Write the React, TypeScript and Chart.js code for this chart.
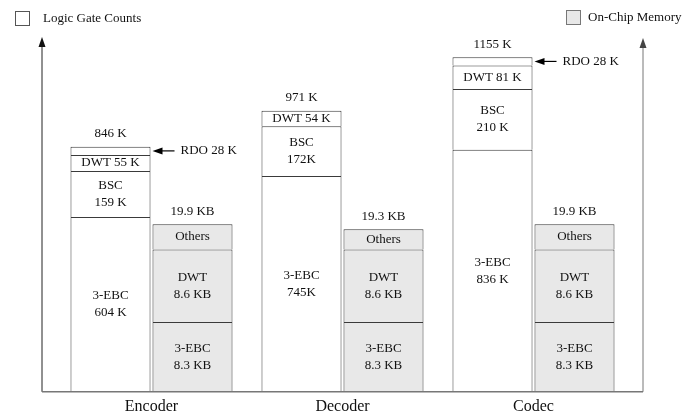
import React, { useEffect, useRef } from "react";
import { Chart, registerables } from "chart.js";

Chart.register(...registerables);

const categories = ["Encoder", "Decoder", "Codec"];

// Logic gate counts (K gates)
const logicEBC = [604, 745, 836];
const logicBSC = [159, 172, 210];
const logicDWT = [55, 54, 81];
const logicRDO: (number | null)[] = [28, null, 28];

// On-chip memory (KB)
const memEBC = [8.3, 8.3, 8.3];
const memDWT = [8.6, 8.6, 8.6];
const memOthers = [3.0, 2.4, 3.0];

const logicTotals = ["846 K", "971 K", "1155 K"];
const memTotals = ["19.9 KB", "19.3 KB", "19.9 KB"];

const labelEBC = [["3-EBC", "604 K"], ["3-EBC", "745K"], ["3-EBC", "836 K"]];
const labelBSC = [["BSC", "159 K"], ["BSC", "172K"], ["BSC", "210 K"]];
const labelDWT = [["DWT 55 K"], ["DWT 54 K"], ["DWT 81 K"]];
const labelRDO = ["RDO 28 K", "", "RDO 28 K"];
const labelMemEBC = [["3-EBC", "8.3 KB"], ["3-EBC", "8.3 KB"], ["3-EBC", "8.3 KB"]];
const labelMemDWT = [["DWT", "8.6 KB"], ["DWT", "8.6 KB"], ["DWT", "8.6 KB"]];
const labelMemOthers = [["Others"], ["Others"], ["Others"]];

const legendLogic = "Logic Gate Counts";
const legendMem = "On-Chip Memory";

const FONT = '"Liberation Serif", "Times New Roman", serif';
const MEM_FILL = "#e8e8e8";
const EDGE = "#3a3a3a";

function arrowUp(ctx: CanvasRenderingContext2D, x: number, yBottom: number, yTop: number) {
  ctx.beginPath();
  ctx.moveTo(x, yBottom);
  ctx.lineTo(x, yTop + 8);
  ctx.stroke();
  ctx.beginPath();
  ctx.moveTo(x, yTop);
  ctx.lineTo(x - 3.5, yTop + 10);
  ctx.lineTo(x + 3.5, yTop + 10);
  ctx.closePath();
  ctx.fill();
}

const overlayPlugin = {
  id: "overlay",
  afterDatasetsDraw(chart: any) {
    const ctx: CanvasRenderingContext2D = chart.ctx;
    const area = chart.chartArea;
    const yL = chart.scales.y;
    const yR = chart.scales.y1;
    ctx.save();
    ctx.fillStyle = "#111";
    ctx.textAlign = "center";
    ctx.textBaseline = "middle";
    ctx.font = `13px ${FONT}`;

    const segLabels: any[] = [labelEBC, labelBSC, labelDWT, null, labelMemEBC, labelMemDWT, labelMemOthers];
    segLabels.forEach((labels, di) => {
      if (!labels) return;
      const meta = chart.getDatasetMeta(di);
      meta.data.forEach((el: any, i: number) => {
        const lines: string[] = labels[i];
        const cy = (el.y + el.base) / 2;
        const lh = 17;
        lines.forEach((t, k) => {
          ctx.fillText(t, el.x, cy + (k - (lines.length - 1) / 2) * lh);
        });
      });
    });

    // totals
    const metaL = chart.getDatasetMeta(0);
    const metaM = chart.getDatasetMeta(4);
    categories.forEach((_, i) => {
      const lt = logicEBC[i] + logicBSC[i] + logicDWT[i] + (logicRDO[i] ?? 0);
      const mt = memEBC[i] + memDWT[i] + memOthers[i];
      ctx.fillText(logicTotals[i], metaL.data[i].x, yL.getPixelForValue(lt) - 13);
      ctx.fillText(memTotals[i], metaM.data[i].x, yR.getPixelForValue(mt) - 13);
    });

    // RDO arrows
    const metaR = chart.getDatasetMeta(3);
    ctx.strokeStyle = "#000";
    ctx.fillStyle = "#000";
    ctx.lineWidth = 1.2;
    metaR.data.forEach((el: any, i: number) => {
      if (logicRDO[i] == null) return;
      const cy = (el.y + el.base) / 2;
      const x0 = el.x + el.width / 2 + 2;
      ctx.beginPath();
      ctx.moveTo(x0 + 6, cy);
      ctx.lineTo(x0 + 22, cy);
      ctx.stroke();
      ctx.beginPath();
      ctx.moveTo(x0, cy);
      ctx.lineTo(x0 + 10, cy - 3.5);
      ctx.lineTo(x0 + 10, cy + 3.5);
      ctx.closePath();
      ctx.fill();
      ctx.fillStyle = "#111";
      ctx.textAlign = "left";
      ctx.fillText(labelRDO[i], x0 + 28, cy);
      ctx.textAlign = "center";
      ctx.fillStyle = "#000";
    });

    // axes
    const axL = area.left - 14;
    const axR = area.right + 14;
    const base = area.bottom;
    ctx.strokeStyle = "#222";
    ctx.fillStyle = "#111";
    ctx.lineWidth = 1;
    arrowUp(ctx, axL, base, 37);
    ctx.strokeStyle = "#777";
    ctx.fillStyle = "#444";
    arrowUp(ctx, axR, base, 38);
    ctx.strokeStyle = "#777";
    ctx.lineWidth = 1.5;
    ctx.beginPath();
    ctx.moveTo(axL, base);
    ctx.lineTo(axR, base);
    ctx.stroke();

    // legend
    ctx.lineWidth = 1;
    ctx.strokeStyle = "#555";
    ctx.fillStyle = "#fff";
    ctx.fillRect(15.5, 11.5, 14, 14);
    ctx.strokeRect(15.5, 11.5, 14, 14);
    ctx.fillStyle = MEM_FILL;
    ctx.strokeStyle = "#777";
    ctx.fillRect(566.5, 10.5, 14, 14);
    ctx.strokeRect(566.5, 10.5, 14, 14);
    ctx.fillStyle = "#111";
    ctx.textAlign = "left";
    ctx.font = `13px ${FONT}`;
    ctx.fillText(legendLogic, 43, 18.5);
    ctx.fillText(legendMem, 588, 17.5);
    ctx.restore();
  },
};

export default function App() {
  const ref = useRef<HTMLCanvasElement>(null);
  useEffect(() => {
    if (!ref.current) return;
    const common = {
      borderColor: EDGE,
      borderWidth: 1,
      borderSkipped: "bottom" as const,
      categoryPercentage: 0.8586,
      barPercentage: 0.976,
    };
    const chart = new Chart(ref.current, {
      type: "bar",
      data: {
        labels: categories,
        datasets: [
          { label: "3-EBC", data: logicEBC, stack: "logic", yAxisID: "y", backgroundColor: "#fff", ...common },
          { label: "BSC", data: logicBSC, stack: "logic", yAxisID: "y", backgroundColor: "#fff", ...common },
          { label: "DWT", data: logicDWT, stack: "logic", yAxisID: "y", backgroundColor: "#fff", ...common },
          { label: "RDO", data: logicRDO, stack: "logic", yAxisID: "y", backgroundColor: "#fff", ...common },
          { label: "3-EBC mem", data: memEBC, stack: "mem", yAxisID: "y1", backgroundColor: MEM_FILL, ...common },
          { label: "DWT mem", data: memDWT, stack: "mem", yAxisID: "y1", backgroundColor: MEM_FILL, ...common },
          { label: "Others", data: memOthers, stack: "mem", yAxisID: "y1", backgroundColor: MEM_FILL, ...common },
        ] as any,
      },
      options: {
        animation: false,
        responsive: true,
        maintainAspectRatio: false,
        layout: { padding: { left: 56, right: 68, top: 40, bottom: -5 } },
        plugins: { legend: { display: false }, tooltip: { enabled: false } },
        scales: {
          x: {
            stacked: true,
            grid: { display: false, drawTicks: false },
            border: { display: false },
            ticks: { color: "#111", font: { family: FONT, size: 16 }, padding: 5 },
          },
          y: { stacked: true, display: false, min: 0, max: 1215 },
          y1: { stacked: true, display: false, min: 0, max: 41.8 },
        },
      },
      plugins: [overlayPlugin],
    });
    return () => chart.destroy();
  }, []);
  return (
    <div style={{ position: "fixed", left: 0, top: 0, width: 697, height: 416, background: "#fff" }}>
      <canvas ref={ref} />
    </div>
  );
}
